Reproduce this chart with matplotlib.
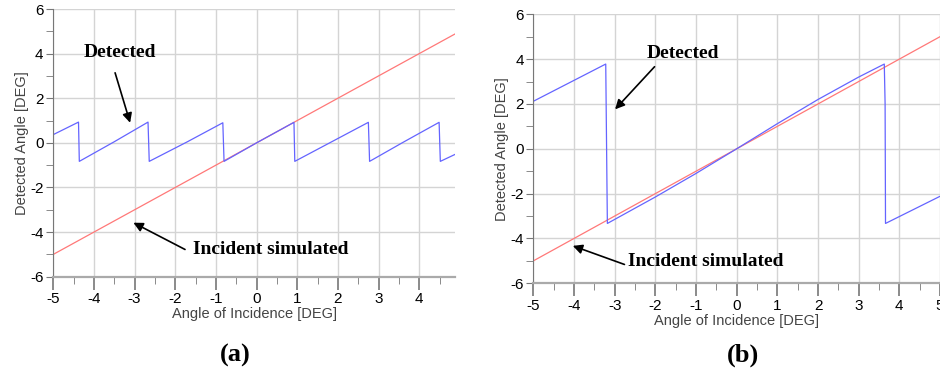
import numpy as np
import matplotlib.pyplot as plt
from matplotlib.ticker import MultipleLocator

# panel (a): detected angle vs angle of incidence (sawtooth)
det_a_x = [-5.0, -4.38, -4.36, -3.5, -2.67, -2.64, -1.7, -0.83, -0.80, 0.0, 0.92, 0.94, 1.85, 2.75, 2.78, 3.6, 4.49, 4.52, 4.88]
det_a_y = [0.37, 0.93, -0.83, 0.05, 0.93, -0.83, 0.05, 0.90, -0.83, 0.0, 0.92, -0.83, 0.05, 0.92, -0.83, 0.02, 0.92, -0.83, -0.52]
inc_a_x = [-5.0, 4.88]
inc_a_y = [-5.0, 4.88]

# panel (b)
det_b_x = [-5.0, -3.22, -3.21, -3.19, -3.18, -2.0, -1.0, 0.0, 1.0, 2.0, 3.0, 3.63, 3.65, 3.66, 5.0]
det_b_y = [2.12, 3.78, 2.0, -1.6, -3.33, -2.15, -1.1, 0.0, 1.12, 2.2, 3.2, 3.78, 2.0, -3.33, -2.12]
inc_b_x = [-5.0, 5.0]
inc_b_y = [-5.0, 5.0]

plt.rcParams["font.family"] = ["Liberation Sans", "DejaVu Sans"]
plt.rcParams["axes.unicode_minus"] = False

BLUE = "#6464ff"
RED = "#ff7878"
SERIF = ["Liberation Serif", "DejaVu Serif"]

fig = plt.figure(figsize=(9.4, 3.82), dpi=100)
ax_a = fig.add_axes([0.0567, 0.2757, 0.484 - 0.0567, 0.9764 - 0.2757])
ax_b = fig.add_axes([0.5674, 0.2584, 1.0 - 0.5674, 0.9626 - 0.2584])


def style_axes(ax, xmax):
    ax.set_xlim(-5, xmax)
    ax.set_ylim(-6, 6)
    ax.xaxis.set_major_locator(MultipleLocator(1))
    ax.xaxis.set_minor_locator(MultipleLocator(0.5))
    ax.yaxis.set_major_locator(MultipleLocator(2))
    ax.yaxis.set_minor_locator(MultipleLocator(1))
    ax.grid(True, which="major", color="#d4d4d4", lw=1.0)
    ax.set_axisbelow(True)
    for side in ("top", "right"):
        ax.spines[side].set_visible(False)
    ax.spines["left"].set_color("#777777")
    ax.spines["bottom"].set_color("#aaaaaa")
    ax.spines["bottom"].set_linewidth(1.6)
    ax.tick_params(axis="both", which="major", direction="out", color="#777777",
                   labelsize=11, pad=2)
    ax.tick_params(axis="x", which="major", length=9, width=1.2)
    ax.tick_params(axis="y", which="major", length=5)
    ax.tick_params(axis="x", which="minor", length=5, color="#777777")
    ax.tick_params(axis="y", which="minor", length=5, color="#777777")
    ax.set_xlabel("Angle of Incidence [DEG]", fontsize=10.5, color="#444444", labelpad=1)
    ax.set_ylabel("Detected Angle [DEG]", fontsize=10.5, color="#444444", labelpad=1)


style_axes(ax_a, 4.88)
style_axes(ax_b, 5.0)

ax_a.plot(inc_a_x, inc_a_y, color=RED, lw=0.9)
ax_a.plot(det_a_x, det_a_y, color=BLUE, lw=0.9)
ax_b.plot(inc_b_x, inc_b_y, color=RED, lw=0.9)
ax_b.plot(det_b_x, det_b_y, color=BLUE, lw=0.9)

arrow = dict(arrowstyle="-|>", color="black", lw=1.2, mutation_scale=14, shrinkA=0, shrinkB=0)
txt = dict(family=SERIF, fontweight="bold", fontsize=14, ha="center", va="center")

ax_a.text(-3.36, 4.03, "Detected", **txt)
ax_a.annotate("", xy=(-3.11, 0.90), xytext=(-3.48, 3.14), arrowprops=arrow)
ax_a.text(0.35, -4.78, "Incident simulated", **txt)
ax_a.annotate("", xy=(-3.03, -3.58), xytext=(-1.76, -4.78), arrowprops=arrow)

ax_b.text(-1.33, 4.26, "Detected", **txt)
ax_b.annotate("", xy=(-2.99, 1.76), xytext=(-2.02, 3.66), arrowprops=arrow)
ax_b.text(-0.77, -5.04, "Incident simulated", **txt)
ax_b.annotate("", xy=(-4.03, -4.33), xytext=(-2.76, -5.16), arrowprops=arrow)

fig.text(235 / 940, 1 - 355 / 382, "(a)", family=SERIF, fontweight="bold", fontsize=19, ha="center", va="center")
fig.text(743 / 940, 1 - 355 / 382, "(b)", family=SERIF, fontweight="bold", fontsize=19, ha="center", va="center")

fig.savefig("out.png", dpi=100)
